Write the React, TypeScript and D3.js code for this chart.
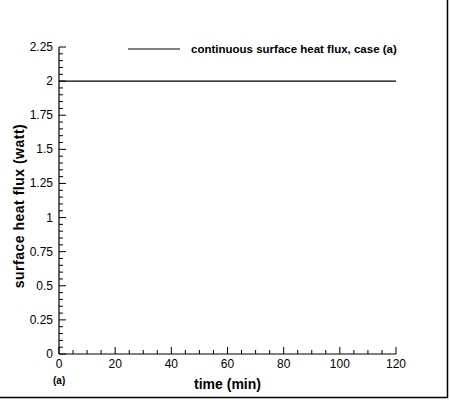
import * as d3 from 'd3'

const timeMin = [0, 120]
const heatFlux = [2, 2]
const xTicks = [0, 20, 40, 60, 80, 100, 120]
const yTicks = [0, 0.25, 0.5, 0.75, 1, 1.25, 1.5, 1.75, 2, 2.25]
const legendLabel = 'continuous surface heat flux, case (a)'

export default function App() {
  const width = 450
  const height = 400
  const left = 59
  const right = 396
  const top = 47
  const bottom = 354

  const x = d3.scaleLinear().domain([0, 120]).range([left, right])
  const y = d3.scaleLinear().domain([0, 2.25]).range([bottom, top])

  const xMinor = d3.range(0, 120.001, 5).filter(v => v % 20 !== 0)
  const yMinor = d3.range(0, 2.2501, 0.05).filter(v => Math.abs(v / 0.25 - Math.round(v / 0.25)) > 1e-6)

  const line = d3.line<number>()
    .x((_, i) => x(timeMin[i]))
    .y(d => y(d))

  const font = 'Liberation Sans, Arial, sans-serif'

  return (
    <svg width={width} height={height} style={{position: 'absolute', left: 0, top: 0}} fontFamily={font}>
      <rect width={width} height={height} fill="#fff" />
      {/* frame on right and bottom */}
      <line x1={447.5} x2={447.5} y1={0} y2={398} stroke="#000" strokeWidth={1.5} />
      <line x1={0} x2={448} y1={397.5} y2={397.5} stroke="#000" strokeWidth={1.5} />

      {/* axes */}
      <line x1={left} x2={right} y1={bottom} y2={bottom} stroke="#000" strokeWidth={1.2} />
      <line x1={left} x2={left} y1={top} y2={bottom} stroke="#000" strokeWidth={1.2} />

      {xTicks.map(t => (
        <g key={'x' + t}>
          <line x1={x(t)} x2={x(t)} y1={bottom} y2={bottom - 7} stroke="#000" />
          <text x={x(t)} y={bottom + 14} textAnchor="middle" fontSize={12} fill="#000">{t}</text>
        </g>
      ))}
      {xMinor.map(t => (
        <line key={'xm' + t} x1={x(t)} x2={x(t)} y1={bottom} y2={bottom - 4} stroke="#000" />
      ))}

      {yTicks.map(t => (
        <g key={'y' + t}>
          <line x1={left} x2={left + 7} y1={y(t)} y2={y(t)} stroke="#000" />
          <text x={left - 6} y={y(t) + 4} textAnchor="end" fontSize={12} fill="#000">{t}</text>
        </g>
      ))}
      {yMinor.map(t => (
        <line key={'ym' + t} x1={left} x2={left + 4} y1={y(t)} y2={y(t)} stroke="#000" />
      ))}

      <path d={line(heatFlux) ?? undefined} fill="none" stroke="#000" strokeWidth={1.2} />

      {/* legend */}
      <line x1={128} x2={180} y1={49} y2={49} stroke="#000" strokeWidth={1.2} />
      <text x={191} y={53} fontSize={11.5} fontWeight={700} fill="#000">{legendLabel}</text>

      <text x={(left + right) / 2} y={389} textAnchor="middle" fontSize={14} fontWeight={700} fill="#000">time (min)</text>
      <text x={53} y={384} fontSize={10} fontWeight={700} fill="#000">(a)</text>
      <text
        transform={`translate(24, 206) rotate(-90)`}
        textAnchor="middle"
        fontSize={14}
        fontWeight={700}
        letterSpacing={0.5}
        fill="#000"
      >
        surface heat flux (watt)
      </text>
    </svg>
  )
}
